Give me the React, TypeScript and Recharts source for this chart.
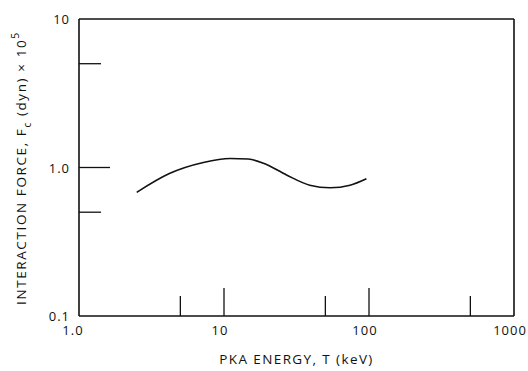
import { LineChart, Line, XAxis, YAxis, ReferenceLine, Label } from "recharts";

// PKA energy T (keV) and interaction force Fc (dyn x 10^5)
const energy = [2.5, 4.2, 7.2, 11, 14.7, 18.7, 27, 39, 54, 74, 96];
const force = [0.68, 0.91, 1.08, 1.15, 1.14, 1.07, 0.89, 0.76, 0.73, 0.76, 0.84];

const xTicks = [1, 5, 10, 50, 100, 500, 1000];
const yTicks = [0.1, 0.5, 1, 5, 10];
const xTickLabels: Record<number, string> = { 1: "1.0", 10: "10", 100: "100", 1000: "1000" };
const yTickLabels: Record<number, string> = { 0.1: "0.1", 1: "1.0", 10: "10" };

const data = energy.map((t, i) => ({ t, f: force[i] }));

const font = "'Open Sans', 'DejaVu Sans', sans-serif";
const ink = "#111";

const isDecade = (v: number) => Math.abs(Math.log10(v) - Math.round(Math.log10(v))) < 1e-9;

function XTick(props: any) {
  const { x, y, payload } = props;
  const v = payload.value;
  const len = isDecade(v) ? 28 : 20;
  const inner = v > 1 && v < 1000;
  return (
    <g>
      {inner && <line x1={x} x2={x} y1={y} y2={y - len} stroke={ink} strokeWidth={1.3} />}
      {xTickLabels[v] && (
        <text
          x={x - (v === 1 ? 6 : 4)}
          y={y + 19}
          textAnchor="middle"
          fontSize={13}
          fontFamily={font}
          fill={ink}
          letterSpacing={1}
        >
          {xTickLabels[v]}
        </text>
      )}
    </g>
  );
}

function YTick(props: any) {
  const { x, y, payload } = props;
  const v = payload.value;
  const len = isDecade(v) ? 31 : 22;
  const inner = v > 0.1 && v < 10;
  return (
    <g>
      {inner && <line x1={x} x2={x + len} y1={y} y2={y} stroke={ink} strokeWidth={1.3} />}
      {yTickLabels[v] && (
        <text
          x={x - 9}
          y={y + 5}
          textAnchor="end"
          fontSize={13}
          fontFamily={font}
          fill={ink}
          letterSpacing={1}
        >
          {yTickLabels[v]}
        </text>
      )}
    </g>
  );
}

function YTitle() {
  return (
    <text
      transform="translate(26,168) rotate(-90)"
      textAnchor="middle"
      fontSize={13.5}
      fontFamily={font}
      fill={ink}
      letterSpacing={1.6}
    >
      INTERACTION FORCE, F
      <tspan fontSize={10} dy={5}>c</tspan>
      <tspan dy={-5}> (dyn) × 10</tspan>
      <tspan fontSize={10.5} dy={-7}>5</tspan>
    </text>
  );
}

export default function App() {
  return (
    <div style={{ position: "absolute", left: 0, top: 0, background: "#fff" }}>
      <LineChart width={528} height={371} data={data} margin={{ top: 19, right: 14, bottom: 0, left: 0 }}>
        <XAxis
          dataKey="t"
          type="number"
          scale="log"
          domain={[1, 1000]}
          ticks={xTicks}
          interval={0}
          allowDataOverflow
          height={55}
          tickSize={0}
          tickMargin={0}
          tick={<XTick />}
          axisLine={{ stroke: ink, strokeWidth: 1.6 }}
          tickLine={false}
        >
          <Label
            value="PKA ENERGY, T (keV)"
            position="insideBottom"
            offset={7}
            style={{ fontSize: 13.5, fontFamily: font, fill: ink, letterSpacing: 1.4 }}
          />
        </XAxis>
        <YAxis
          dataKey="f"
          type="number"
          scale="log"
          domain={[0.1, 10]}
          ticks={yTicks}
          interval={0}
          allowDataOverflow
          width={79}
          tickSize={0}
          tickMargin={0}
          tick={<YTick />}
          axisLine={{ stroke: ink, strokeWidth: 1.6 }}
          tickLine={false}
        >
          <Label content={<YTitle />} />
        </YAxis>
        <ReferenceLine y={10} stroke={ink} strokeWidth={1.6} />
        <ReferenceLine x={1000} stroke={ink} strokeWidth={1.6} />
        <Line
          type="monotone"
          dataKey="f"
          stroke={ink}
          strokeWidth={1.6}
          dot={false}
          isAnimationActive={false}
        />
      </LineChart>
    </div>
  );
}
